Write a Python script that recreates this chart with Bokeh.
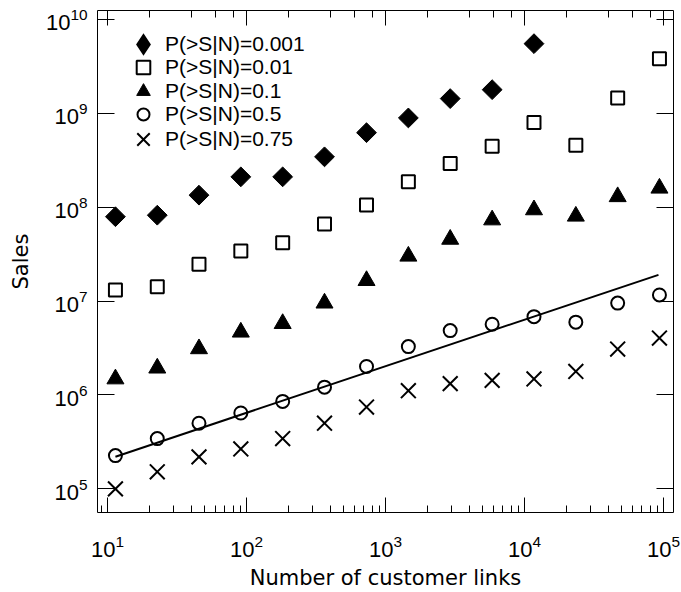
import numpy as np
from bokeh.plotting import figure
from bokeh.models import LogAxis, LogTicker, Legend, LegendItem, Range1d
from bokeh.embed import file_html
from bokeh.resources import INLINE

# ---- data ----
links = [11.4, 22.8, 45.5, 91, 182, 364, 730, 1460, 2920, 5850, 11700, 23400, 46800, 93500]
sales_p0001 = [7.9e7, 8.2e7, 1.34e8, 2.1e8, 2.1e8, 3.43e8, 6.2e8, 8.9e8, 1.43e9, 1.78e9, 5.5e9]
sales_p001 = [1.31e7, 1.42e7, 2.46e7, 3.4e7, 4.17e7, 6.6e7, 1.05e8, 1.86e8, 2.91e8, 4.44e8,
              7.95e8, 4.56e8, 1.45e9, 3.8e9]
sales_p01 = [1.48e6, 1.93e6, 3.1e6, 4.66e6, 5.75e6, 9.5e6, 1.65e7, 3.0e7, 4.54e7, 7.3e7,
             9.35e7, 8.0e7, 1.29e8, 1.59e8]
sales_p05 = [2.26e5, 3.43e5, 5.0e5, 6.42e5, 8.53e5, 1.21e6, 2.01e6, 3.27e6, 4.84e6, 5.66e6,
             6.82e6, 5.96e6, 9.5e6, 1.16e7]
sales_p075 = [1.0e5, 1.52e5, 2.19e5, 2.66e5, 3.43e5, 5.0e5, 7.43e5, 1.11e6, 1.32e6, 1.43e6,
              1.48e6, 1.78e6, 3.08e6, 4.03e6]
fit_x = [11.4, 92000]
fit_y = [2.2e5, 1.9e7]
labels = ["P(>S|N)=0.001", "P(>S|N)=0.01", "P(>S|N)=0.1", "P(>S|N)=0.5", "P(>S|N)=0.75"]

TICK_FONT = "Liberation Sans"
AXIS_FONT = "DejaVu Sans"

p = figure(width=681, height=592, x_axis_type="log", y_axis_type="log",
           x_range=Range1d(8.47, 1.18e5), y_range=Range1d(5.6e4, 1.24e10),
           output_backend="svg", toolbar_location=None,
           min_border_left=97, min_border_right=8, min_border_top=10, min_border_bottom=79)
p.grid.visible = False
p.outline_line_color = "black"
p.outline_line_width = 1
p.background_fill_color = "white"
p.border_fill_color = "white"

# main axes
xa = p.xaxis[0]
ya = p.yaxis[0]
for ax in (xa, ya):
    ax.axis_line_color = None
    ax.major_tick_out = 0
    ax.minor_tick_out = 0
    ax.major_tick_line_color = "black"
    ax.minor_tick_line_color = "black"
    ax.major_label_text_font = TICK_FONT
    ax.major_label_text_font_size = "22px"
    ax.major_label_text_color = "black"
    ax.axis_label_text_font = AXIS_FONT
    ax.axis_label_text_font_size = "21px"
    ax.axis_label_text_font_style = "normal"
    ax.axis_label_text_color = "black"
xa.major_tick_in = 15
xa.minor_tick_in = 7
xa.major_label_standoff = 22
xa.axis_label = "Number of customer links"
xa.axis_label_standoff = 6
ya.major_tick_in = 17
ya.minor_tick_line_color = None
ya.major_label_standoff = 10
ya.axis_label = "Sales"
ya.axis_label_standoff = 10

# mirrored tick axes (labels invisible)
top = LogAxis(ticker=LogTicker(), major_tick_in=15, major_tick_out=0, minor_tick_in=7, minor_tick_out=0,
              axis_line_color=None, major_label_text_font_size="1px", major_label_text_alpha=0,
              major_label_standoff=0)
right = LogAxis(ticker=LogTicker(), major_tick_in=17, major_tick_out=0, minor_tick_line_color=None,
                axis_line_color=None, major_label_text_font_size="1px", major_label_text_alpha=0,
                major_label_standoff=0)
p.add_layout(top, "above")
p.add_layout(right, "right")

# data marks
r1 = p.scatter(links[:len(sales_p0001)], sales_p0001, marker="square", angle=np.pi/4, size=14,
               fill_color="black", line_color="black")
r2 = p.scatter(links, sales_p001, marker="square", size=13, fill_color=None, line_color="black",
               line_width=2)
r3 = p.scatter(links, sales_p01, marker="triangle", size=17, fill_color="black", line_color="black")
p.line(fit_x, fit_y, line_color="black", line_width=2)
r4 = p.scatter(links, sales_p05, marker="circle", size=13, fill_color=None, line_color="black",
               line_width=2)
r5 = p.scatter(links, sales_p075, marker="x", size=21, line_color="black", line_width=2)

# legend swatch for the diamond series (legend glyphs are drawn unrotated): hidden twin renderer
r1_key = p.scatter(links[:len(sales_p0001)], sales_p0001, marker="diamond", fill_color="black",
                   line_color="black", line_width=3.5, line_join="miter", visible=False)

# one single-item legend per series so rows can sit closer than the glyph box
row_center = [45, 68, 92, 115, 140]   # screen px from top of the page
row_box = [40, 34, 34, 30, 44]
for lab, rend, cy, b in zip(labels, [r1_key, r2, r3, r4, r5], row_center, row_box):
    loc_x = 46 - b // 2
    loc_y = 513 - cy - b // 2
    standoff = max(0, 22 - b // 2)
    lg = Legend(items=[LegendItem(label=lab, renderers=[rend])],
                location=(loc_x, loc_y), glyph_width=b, glyph_height=b, spacing=0,
                label_standoff=standoff, padding=0, margin=0, border_line_color=None,
                background_fill_alpha=0, inactive_fill_alpha=0,
                label_text_font=TICK_FONT, label_text_font_size="21px",
                label_text_color="black")
    p.add_layout(lg, "center")

open("out.html", "w").write(file_html(p, INLINE))
